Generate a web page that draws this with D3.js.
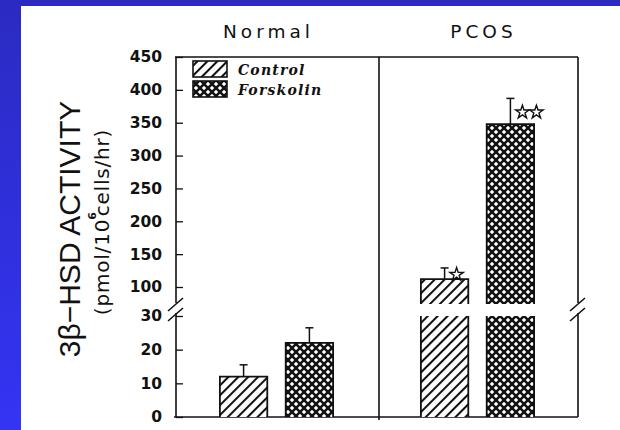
<!DOCTYPE html>
<html>
<head>
<meta charset="utf-8">
<script src="https://cdn.jsdelivr.net/npm/d3@7"></script>
<style>
  html, body { margin: 0; padding: 0; background: #fff; }
  svg { display: block; }
</style>
</head>
<body>
<svg id="chart" width="620" height="430"></svg>
<script>
// ---- data ----
const groups = ["Normal", "PCOS"];
const seriesNames = ["Control", "Forskolin"];
const controlMeans = [12, 112];
const controlSem = [3.5, 17];
const forskolinMeans = [22, 348];
const forskolinSem = [4.5, 39];
const controlMarks = ["", "*"];
const forskolinMarks = ["", "**"];
const lowerTicks = [0, 10, 20, 30];
const upperTicks = [100, 150, 200, 250, 300, 350, 400, 450];

// ---- layout ----
const W = 620, H = 430;
const frame = { left: 176, right: 578, top: 57, bottom: 417 };
const upperBandBottom = 304;   // where the upper (broken) segment is cut
const lowerBandTop = 316;      // top of the lower segment (value 30)
const ink = "#111";

const svg = d3.select("#chart");

// background: blue border with white plot card
const defs = svg.append("defs");
const bg = defs.append("linearGradient").attr("id", "bgGrad")
  .attr("x1", 0).attr("y1", 0).attr("x2", 0).attr("y2", 1);
bg.append("stop").attr("offset", 0).attr("stop-color", "#2b2bc2");
bg.append("stop").attr("offset", 1).attr("stop-color", "#3434f4");
svg.append("rect").attr("width", W).attr("height", H).attr("fill", "url(#bgGrad)");
svg.append("rect").attr("x", 21).attr("y", 6).attr("width", W - 21).attr("height", H - 6).attr("fill", "#fff");

// fill patterns
const hatch = defs.append("pattern").attr("id", "hatch")
  .attr("patternUnits", "userSpaceOnUse").attr("width", 7).attr("height", 7)
  .attr("patternTransform", "rotate(45)");
hatch.append("rect").attr("width", 7).attr("height", 7).attr("fill", "#fff");
hatch.append("line").attr("x1", 1).attr("y1", -1).attr("x2", 1).attr("y2", 8)
  .attr("stroke", ink).attr("stroke-width", 2.1);

const cross = defs.append("pattern").attr("id", "cross")
  .attr("patternUnits", "userSpaceOnUse").attr("width", 8).attr("height", 8);
cross.append("rect").attr("width", 8).attr("height", 8).attr("fill", "#fff");
cross.append("path").attr("d", "M-2,-2L10,10M10,-2L-2,10")
  .attr("stroke", ink).attr("stroke-width", 2.5).attr("fill", "none");

const fills = { Control: "url(#hatch)", Forskolin: "url(#cross)" };

// ---- scales ----
const x0 = d3.scaleBand().domain(groups).range([frame.left, frame.right]);
const x1 = d3.scaleBand().domain(seriesNames).range([0, x0.bandwidth()])
  .paddingInner(0.28).paddingOuter(0.667);
const yLo = d3.scaleLinear().domain([0, 30]).range([frame.bottom, lowerBandTop]);
const yHi = d3.scaleLinear().domain([100, 450]).range([287, frame.top]);

// ---- axes (ticks point inward) ----
const tickFont = g => g.selectAll("text")
  .attr("font-family", "DejaVu Sans").attr("font-weight", "bold")
  .attr("font-size", 15.5).attr("fill", ink);
const axisStyle = g => {
  g.select(".domain").remove();
  g.selectAll("line").attr("stroke", ink).attr("stroke-width", 1.3);
  tickFont(g);
};
svg.append("g").attr("transform", `translate(${frame.left},0)`)
  .call(d3.axisLeft(yHi).tickValues(upperTicks).tickSize(-7).tickPadding(14))
  .call(axisStyle);
svg.append("g").attr("transform", `translate(${frame.left},0)`)
  .call(d3.axisLeft(yLo).tickValues(lowerTicks).tickSize(-7).tickPadding(14))
  .call(axisStyle);

// ---- frame with broken side lines ----
const frameG = svg.append("g").attr("stroke", ink).attr("stroke-width", 1.6).attr("fill", "none");
const gapTop = 303, gapBottom = 313;
[frame.left, frame.right].forEach(xv => {
  frameG.append("line").attr("x1", xv).attr("x2", xv).attr("y1", frame.top).attr("y2", gapTop);
  frameG.append("line").attr("x1", xv).attr("x2", xv).attr("y1", gapBottom).attr("y2", frame.bottom);
  // break slashes
  frameG.append("line").attr("x1", xv - 8).attr("y1", gapTop + 8).attr("x2", xv + 7).attr("y2", gapTop - 5);
  frameG.append("line").attr("x1", xv - 8).attr("y1", gapBottom + 8).attr("x2", xv + 7).attr("y2", gapBottom - 5);
});
frameG.append("line").attr("x1", frame.left - 1).attr("x2", frame.right).attr("y1", frame.top).attr("y2", frame.top);
frameG.append("line").attr("x1", frame.left - 2).attr("x2", frame.right).attr("y1", frame.bottom).attr("y2", frame.bottom);
const divX = x0("PCOS") + 2;
frameG.append("line").attr("x1", divX).attr("x2", divX).attr("y1", frame.top).attr("y2", frame.bottom + 3);

// ---- bars ----
const rows = [];
groups.forEach((g, i) => {
  rows.push({ group: g, series: "Control", mean: controlMeans[i], sem: controlSem[i], mark: controlMarks[i] });
  rows.push({ group: g, series: "Forskolin", mean: forskolinMeans[i], sem: forskolinSem[i], mark: forskolinMarks[i] });
});
const yOf = v => v <= 30 ? yLo(v) : yHi(v);

const barG = svg.append("g");
rows.forEach(d => {
  const bx = x0(d.group) + x1(d.series);
  const bw = x1.bandwidth();
  const g = barG.append("g");
  if (d.mean <= 30) {
    const top = yLo(d.mean);
    g.append("rect").attr("x", bx).attr("y", top).attr("width", bw).attr("height", yLo(0) - top)
      .attr("fill", fills[d.series]);
    g.append("path").attr("d", `M${bx},${yLo(0)}V${top}H${bx + bw}V${yLo(0)}`)
      .attr("fill", "none").attr("stroke", ink).attr("stroke-width", 1.8);
  } else {
    // lower segment: full 0..30
    g.append("rect").attr("x", bx).attr("y", yLo(30)).attr("width", bw).attr("height", yLo(0) - yLo(30))
      .attr("fill", fills[d.series]);
    g.append("path").attr("d", `M${bx},${yLo(0)}V${yLo(30)}M${bx + bw},${yLo(30)}V${yLo(0)}`)
      .attr("fill", "none").attr("stroke", ink).attr("stroke-width", 1.8);
    // upper segment: cut at the break
    const top = yHi(d.mean);
    g.append("rect").attr("x", bx).attr("y", top).attr("width", bw).attr("height", upperBandBottom - top)
      .attr("fill", fills[d.series]);
    g.append("path").attr("d", `M${bx},${upperBandBottom}V${top}H${bx + bw}V${upperBandBottom}`)
      .attr("fill", "none").attr("stroke", ink).attr("stroke-width", 1.8);
  }
  // error bar (upper only)
  const cx = bx + bw / 2;
  const yBar = yOf(d.mean);
  const yTop = yOf(d.mean + d.sem);
  g.append("line").attr("x1", cx).attr("x2", cx).attr("y1", yBar).attr("y2", yTop)
    .attr("stroke", ink).attr("stroke-width", 1.5);
  g.append("line").attr("x1", cx - 4).attr("x2", cx + 4).attr("y1", yTop).attr("y2", yTop)
    .attr("stroke", ink).attr("stroke-width", 1.5);
  // significance stars, beside the error bar
  const star = d3.symbol().type(d3.symbolStar).size(56)();
  for (let k = 0; k < d.mark.length; k++) {
    g.append("path").attr("d", star)
      .attr("transform", `translate(${cx + 12 + k * 14},${(yBar + yTop) / 2 + 1})`)
      .attr("fill", "#fff").attr("stroke", ink).attr("stroke-width", 1.4);
  }
});

// ---- group labels ----
const labelNudge = { Normal: -8, PCOS: 6 };
svg.append("g").selectAll("text").data(groups).join("text")
  .attr("x", d => x0(d) + x0.bandwidth() / 2 + labelNudge[d])
  .attr("y", 38)
  .attr("text-anchor", "middle")
  .attr("font-family", "DejaVu Sans").attr("font-size", 18.5)
  .attr("letter-spacing", 4)
  .attr("fill", ink)
  .text(d => d);

// ---- legend ----
const legend = svg.append("g");
seriesNames.forEach((s, i) => {
  const ly = 61 + i * 20;
  legend.append("rect").attr("x", 193).attr("y", ly).attr("width", 34).attr("height", 16)
    .attr("fill", fills[s]).attr("stroke", ink).attr("stroke-width", 1.6);
  legend.append("text").attr("x", 238).attr("y", ly + 14)
    .attr("font-family", "DejaVu Serif").attr("font-style", "italic").attr("font-weight", "bold")
    .attr("font-size", 14).attr("letter-spacing", 1.2).attr("fill", ink)
    .text(s);
});

// ---- y-axis title ----
svg.append("text")
  .attr("transform", "translate(80,229) rotate(-90)")
  .attr("text-anchor", "middle")
  .attr("font-family", "Liberation Sans").attr("font-size", 30)
  .attr("fill", ink)
  .text("3β−HSD ACTIVITY");

const sub = svg.append("text")
  .attr("transform", "translate(109,222) rotate(-90)")
  .attr("text-anchor", "middle")
  .attr("font-family", "DejaVu Sans").attr("font-size", 20)
  .attr("letter-spacing", 0.8)
  .attr("fill", ink);
sub.append("tspan").text("(pmol/10");
sub.append("tspan").attr("dy", -13).attr("dx", -1).attr("font-size", 11).attr("font-weight", "bold").text("6");
sub.append("tspan").attr("dy", 13).attr("dx", -5).text("cells/hr)");
</script>
</body>
</html>
